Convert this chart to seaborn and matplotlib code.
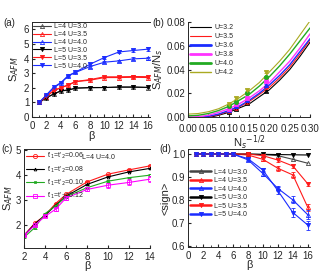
import numpy as np
import pandas as pd
import seaborn as sns
import matplotlib
matplotlib.use("Agg")
import matplotlib.pyplot as plt
from matplotlib.ticker import MultipleLocator

# ---- panel (a): S_AFM vs beta
beta_a = [1, 2, 3, 4, 5, 6, 8, 10, 12, 14, 16]
a_L4_U30 = [1.0, 1.32, 1.57, 1.78, 1.84, 1.97, 2.0, 2.02, 2.03, 2.03, 2.02]
a_L4_U35 = [1.0, 1.4, 1.8, 2.0, 2.18, 2.42, 2.52, 2.7, 2.7, 2.72, 2.7]
a_L4_U40 = [1.0, 1.5, 2.0, 2.33, 2.8, 3.05, 3.45, 3.75, 3.84, 3.98, 4.02]
a_L5_U30 = [1.0, 1.33, 1.58, 1.8, 1.85, 1.98, 2.02, 2.02, 2.06, 2.06, 2.03]
a_L5_U35 = [1.0, 1.42, 1.82, 2.02, 2.2, 2.43, 2.56, 2.75, 2.75, 2.77, 2.76]
a_L5_U40 = [1.0, 1.52, 2.05, 2.36, 2.84, 3.07, 3.61, 4.07, 4.45, 4.55, 4.64]
a_err_L4_U40 = [0.0, 0.0, 0.0, 0.0, 0.05, 0.05, 0.07, 0.08, 0.08, 0.1, 0.1]
a_err_L5_U35 = [0.0, 0.0, 0.0, 0.0, 0.03, 0.04, 0.05, 0.08, 0.08, 0.1, 0.1]
a_err_L5_U40 = [0.0, 0.0, 0.0, 0.05, 0.05, 0.06, 0.08, 0.08, 0.1, 0.12, 0.14]

# ---- panel (b): S_AFM/N_s vs N_s^-1/2 (fit curves + data points)
x_fit = [0.0, 0.025, 0.05, 0.075, 0.1, 0.125, 0.15, 0.175, 0.2, 0.225, 0.25, 0.275, 0.3]
fit_U32 = [-0.003, -0.002, -0.0005, 0.0015, 0.004, 0.0075, 0.011, 0.017, 0.023, 0.031, 0.040, 0.051, 0.063]
fit_U35 = [-0.0015, -0.001, 0.0003, 0.002, 0.005, 0.0085, 0.013, 0.019, 0.025, 0.033, 0.042, 0.053, 0.065]
fit_U36 = [-0.001, -0.0005, 0.0007, 0.0025, 0.0055, 0.009, 0.014, 0.020, 0.027, 0.035, 0.044, 0.055, 0.066]
fit_U38 = [0.0, 0.0003, 0.0015, 0.004, 0.007, 0.011, 0.016, 0.022, 0.029, 0.038, 0.047, 0.058, 0.070]
fit_U40 = [0.001, 0.0015, 0.003, 0.0055, 0.009, 0.014, 0.019, 0.026, 0.034, 0.043, 0.053, 0.064, 0.075]
fit_U42 = [0.0025, 0.003, 0.0045, 0.007, 0.011, 0.016, 0.022, 0.029, 0.038, 0.047, 0.057, 0.069, 0.081]
x_pts = [0.1, 0.118, 0.144, 0.192]
pts_U32 = [0.004, 0.007, 0.012, 0.022]
pts_U35 = [0.005, 0.008, 0.013, 0.025]
pts_U36 = [0.006, 0.009, 0.014, 0.027]
pts_U38 = [0.007, 0.011, 0.016, 0.030]
pts_U40 = [0.009, 0.013, 0.020, 0.034]
pts_U42 = [0.011, 0.016, 0.023, 0.038]

# ---- panel (c): S_AFM vs beta for different t'
beta_c = [2, 3, 4, 5, 6, 8, 10, 12, 14]
c_t006 = [1.6, 2.08, 2.4, 2.87, 3.23, 3.73, 4.04, 4.21, 4.37]
c_t008 = [1.6, 2.05, 2.4, 2.8, 3.16, 3.63, 3.93, 4.13, 4.27]
c_t010 = [1.53, 1.9, 2.47, 2.77, 3.14, 3.5, 3.76, 3.9, 4.0]
c_t012 = [1.6, 2.0, 2.36, 2.64, 3.09, 3.43, 3.6, 3.71, 3.84]
c_err_t012 = [0.02, 0.03, 0.04, 0.05, 0.06, 0.08, 0.1, 0.12, 0.12]

# ---- panel (d): average sign vs beta
beta_d = [1, 2, 3, 4, 5, 6, 8, 10, 12, 14, 16]
d_L4_U30 = [1.0, 1.0, 1.0, 1.0, 1.0, 1.0, 1.0, 0.998, 0.993, 0.977, 0.96]
d_L4_U35 = [1.0, 1.0, 1.0, 1.0, 1.0, 1.0, 0.996, 0.977, 0.938, 0.909, 0.767]
d_L4_U40 = [1.0, 1.0, 1.0, 1.0, 1.0, 1.0, 0.975, 0.915, 0.85, 0.80, 0.735]
d_L5_U30 = [1.0, 1.0, 1.0, 1.0, 1.0, 1.0, 1.0, 0.999, 0.998, 0.997, 0.996]
d_L5_U35 = [1.0, 1.0, 1.0, 1.0, 1.0, 1.0, 1.0, 0.993, 0.974, 0.948, 0.87]
d_L5_U40 = [1.0, 1.0, 1.0, 1.0, 1.0, 1.0, 0.98, 0.93, 0.84, 0.745, 0.69]
d_err_L4_U35 = [0, 0, 0, 0, 0, 0, 0.003, 0.008, 0.01, 0.012, 0.015]
d_err_L4_U40 = [0, 0, 0, 0, 0, 0, 0.005, 0.01, 0.012, 0.015, 0.02]
d_err_L5_U35 = [0, 0, 0, 0, 0, 0, 0.002, 0.005, 0.007, 0.01, 0.01]
d_err_L5_U40 = [0, 0, 0, 0, 0, 0, 0.005, 0.01, 0.015, 0.02, 0.02]

sns.set_style("ticks")
plt.rcParams['font.family'] = ['Liberation Sans', 'DejaVu Sans']
plt.rcParams['xtick.direction'] = 'in'
plt.rcParams['ytick.direction'] = 'in'
plt.rcParams['xtick.major.size'] = 2
plt.rcParams['ytick.major.size'] = 2
plt.rcParams['xtick.minor.size'] = 1.5
plt.rcParams['xtick.labelsize'] = 7
plt.rcParams['ytick.labelsize'] = 7
plt.rcParams['xtick.major.pad'] = 3
plt.rcParams['ytick.major.pad'] = 2
plt.rcParams['axes.linewidth'] = 0.7

BLK, RED, BLU = "#000000", "#ff1a1a", "#1a2cff"


def draw(ax, x, y, color, marker, filled, label, err=None, ms=3, lw=0.8):
    df = pd.DataFrame({"x": x, "y": y})
    sns.lineplot(data=df, x="x", y="y", ax=ax, color=color, marker=marker,
                 markersize=ms, markerfacecolor=color if filled else "none",
                 markeredgecolor=color, markeredgewidth=0.6, linewidth=lw,
                 label=label)
    if err is not None:
        ax.errorbar(x, y, yerr=err, fmt="none", ecolor=color, elinewidth=0.6,
                    capsize=1.5, capthick=0.6)


def style(ax, top=True):
    ax.spines['right'].set_visible(False)
    ax.spines['top'].set_visible(top)
    ax.tick_params(top=False, right=False)
    ax.set_xlabel("")
    ax.set_ylabel("")


fig = plt.figure(figsize=(3.21, 2.71), dpi=100)

# (a)
ax = fig.add_axes([0.0997, 0.568, 0.368, 0.351])
draw(ax, beta_a, a_L4_U30, "#444444", "^", False, "L=4 U=3.0")
draw(ax, beta_a, a_L4_U35, RED, "^", False, "L=4 U=3.5")
draw(ax, beta_a, a_L4_U40, BLU, "^", False, "L=4 U=4.0", a_err_L4_U40)
draw(ax, beta_a, a_L5_U30, BLK, "v", True, "L=5 U=3.0")
draw(ax, beta_a, a_L5_U35, RED, "v", True, "L=5 U=3.5", a_err_L5_U35)
draw(ax, beta_a, a_L5_U40, BLU, "v", True, "L=5 U=4.0", a_err_L5_U40)
style(ax)
ax.set_xlim(0, 16.3)
ax.set_ylim(0, 6.5)
ax.xaxis.set_major_locator(MultipleLocator(2))
ax.xaxis.set_minor_locator(MultipleLocator(1))
ax.yaxis.set_major_locator(MultipleLocator(1))
ax.set_ylabel("S$_{AFM}$", fontsize=8, labelpad=2)
ax.set_xlabel("β", fontsize=8, labelpad=0)
ax.legend(loc="upper left", frameon=False, fontsize=5, handlelength=2.6,
          labelspacing=0.12, borderaxespad=0.1, handletextpad=0.4,
          borderpad=0.1)

# (b)
ax = fig.add_axes([0.586, 0.568, 0.380, 0.351])
curves = [(fit_U32, pts_U32, BLK, "^", False, "U=3.2", 0.8),
          (fit_U35, pts_U35, RED, "o", False, "U=3.5", 0.8),
          (fit_U36, pts_U36, BLU, "^", True, "U=3.6", 1.0),
          (fit_U38, pts_U38, "#ff33ff", "s", True, "U=3.8", 1.0),
          (fit_U40, pts_U40, "#22aa22", "o", True, "U=4.0", 1.0),
          (fit_U42, pts_U42, "#aaaa22", "v", True, "U=4.2", 0.8)]
for fit, pts, col, mk, filled, lab, lw in curves:
    sns.lineplot(x=x_fit, y=fit, ax=ax, color=col, linewidth=lw, label=lab)
    ax.errorbar(x_pts, pts, yerr=[0.0008] * len(pts), fmt=mk, color=col,
                markersize=3, markerfacecolor=col if filled else "none",
                markeredgewidth=0.6, elinewidth=0.5, capsize=1.2, capthick=0.5)
style(ax, top=False)
ax.set_xlim(0, 0.30)
ax.set_ylim(0, 0.08)
ax.xaxis.set_major_locator(MultipleLocator(0.05))
ax.xaxis.set_minor_locator(MultipleLocator(0.025))
ax.yaxis.set_major_locator(MultipleLocator(0.02))
ax.xaxis.set_major_formatter(plt.FormatStrFormatter("%.2f"))
ax.yaxis.set_major_formatter(plt.FormatStrFormatter("%.2f"))
ax.tick_params(axis="x", pad=5)
ax.set_ylabel("S$_{AFM}$/N$_s$", fontsize=8, labelpad=1)
ax.set_xlabel("N$_s$$^{-1/2}$", fontsize=8, labelpad=0)
leg = ax.legend(loc="upper left", frameon=False, fontsize=5, handlelength=3.0,
                labelspacing=0.3, borderaxespad=0.1, handletextpad=0.5,
                borderpad=0.2)
for line, lw in zip(leg.get_lines(), [0.8, 0.8, 2.0, 2.0, 2.0, 1.0]):
    line.set_linewidth(lw)

# (c)
ax = fig.add_axes([0.075, 0.085, 0.392, 0.365])
draw(ax, beta_c, c_t006, RED, "o", False, "t'$_1$=t'$_2$=0.06", [0.02] * 9)
draw(ax, beta_c, c_t008, BLK, "^", False, "t'$_1$=t'$_2$=0.08", [0.02] * 9, ms=2)
draw(ax, beta_c, c_t010, "#22aa22", "s", False, "t'$_1$=t'$_2$=0.10", [0.03] * 9, ms=2)
draw(ax, beta_c, c_t012, "#ff00ff", "s", False, "t'$_1$=t'$_2$=0.12", c_err_t012)
style(ax)
ax.set_xlim(2, 14)
ax.set_ylim(1.1, 5.04)
ax.xaxis.set_major_locator(MultipleLocator(2))
ax.yaxis.set_major_locator(MultipleLocator(1))
ax.set_ylabel("S$_{AFM}$", fontsize=8, labelpad=1)
ax.set_xlabel("β", fontsize=8, labelpad=-1)
ax.legend(loc="upper left", frameon=False, fontsize=5, handlelength=2.6,
          labelspacing=0.45, borderaxespad=0.1, handletextpad=0.4,
          borderpad=0.2)
ax.text(0.46, 0.9, "L=4 U=4.0", transform=ax.transAxes, fontsize=5)

# (d)
ax = fig.add_axes([0.586, 0.089, 0.380, 0.361])
draw(ax, beta_d, d_L4_U30, "#444444", "^", False, "L=4 U=3.0")
draw(ax, beta_d, d_L4_U35, RED, "^", False, "L=4 U=3.5", d_err_L4_U35)
draw(ax, beta_d, d_L4_U40, BLU, "^", False, "L=4 U=4.0", d_err_L4_U40)
draw(ax, beta_d, d_L5_U30, BLK, "v", True, "L=5 U=3.0")
draw(ax, beta_d, d_L5_U35, RED, "v", True, "L=5 U=3.5", d_err_L5_U35)
draw(ax, beta_d, d_L5_U40, BLU, "v", True, "L=5 U=4.0", d_err_L5_U40)
style(ax)
ax.set_xlim(0, 16.3)
ax.set_ylim(0.595, 1.022)
ax.xaxis.set_major_locator(MultipleLocator(2))
ax.xaxis.set_minor_locator(MultipleLocator(1))
ax.yaxis.set_major_locator(MultipleLocator(0.1))
ax.yaxis.set_major_formatter(plt.FormatStrFormatter("%.1f"))
ax.set_ylabel("<sign>", fontsize=8, labelpad=1)
ax.set_xlabel("β", fontsize=8, labelpad=-1)
leg = ax.legend(loc="upper left", bbox_to_anchor=(0.0, 0.82), frameon=False,
                fontsize=5, handlelength=3.0, labelspacing=0.22,
                borderaxespad=0.1, handletextpad=0.4, borderpad=0.2)
for line in leg.get_lines():
    line.set_linewidth(1.8)

fig.text(0.01, 0.905, "(a)", fontsize=7)
fig.text(0.475, 0.905, "(b)", fontsize=7)
fig.text(0.005, 0.44, "(c)", fontsize=7)
fig.text(0.497, 0.44, "(d)", fontsize=7)

fig.savefig("out.png", dpi=100)
